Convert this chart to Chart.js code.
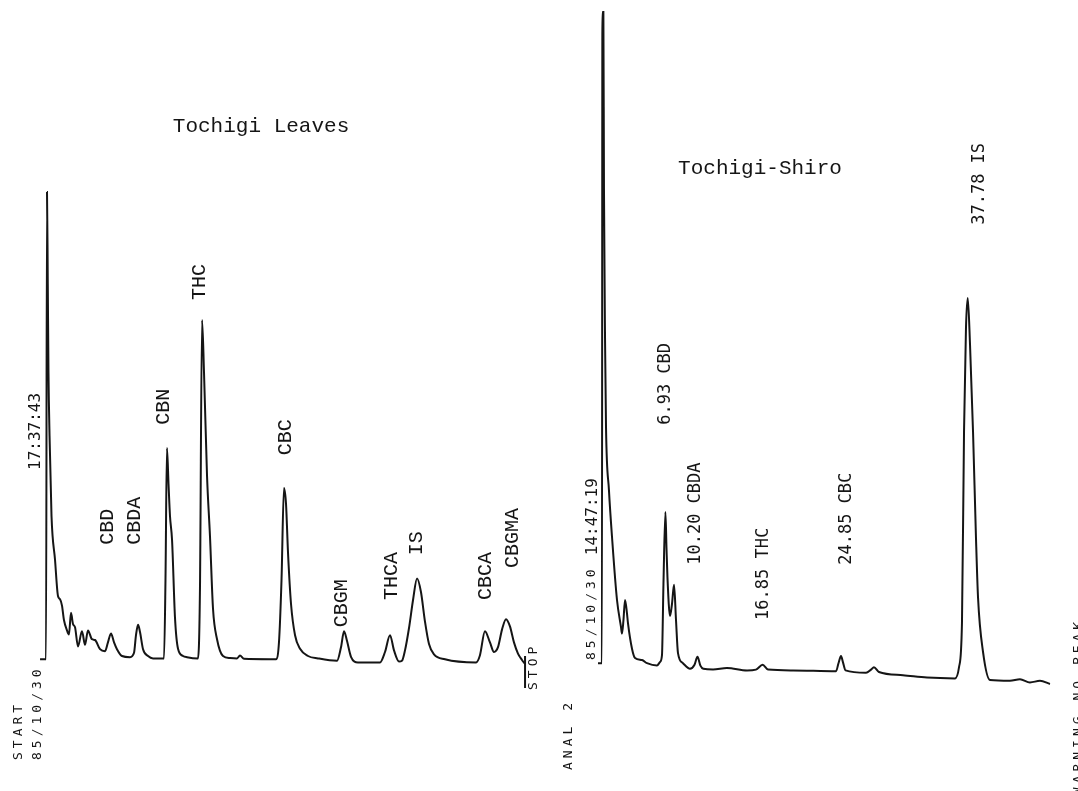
<!DOCTYPE html>
<html>
<head>
<meta charset="utf-8">
<script src="https://cdn.jsdelivr.net/npm/chart.js@4/dist/chart.umd.min.js"></script>
<style>
  html, body { margin: 0; padding: 0; background: #fff; }
  #chart { display: block; }
</style>
</head>
<body>
<canvas id="chart" width="1078" height="791"></canvas>
<script>
// Tochigi Leaves run: retention time (min) and detector response
const leavesTime = [-0.71, -0.10, 0.00, 0.08, 0.15, 0.26, 0.46, 0.82, 1.12, 1.33,
  1.53, 1.73, 2.04, 2.24, 2.45, 2.65, 2.86, 3.16, 3.57, 3.88,
  4.18, 4.59, 4.90, 5.41, 5.92, 6.22, 6.53, 6.84, 7.14, 7.65,
  8.47, 8.88, 9.08, 9.29, 9.49, 9.80, 10.31, 10.82, 11.94, 12.09,
  12.24, 12.40, 12.55, 12.76, 13.06, 13.37, 13.88, 14.29, 15.41, 15.61,
  15.82, 16.02, 16.33, 16.63, 16.94, 17.35, 17.96, 18.67, 19.39, 19.69,
  20.10, 22.76, 23.37, 23.67, 23.93, 24.18, 24.39, 24.59, 24.90, 25.31,
  25.82, 26.63, 27.65, 29.59, 30.00, 30.31, 30.61, 31.02, 31.73, 33.98,
  34.49, 35.00, 35.41, 35.92, 36.22, 36.53, 36.94, 37.35, 37.76, 38.16,
  38.57, 38.98, 39.49, 40.61, 43.78, 44.18, 44.69, 45.20, 45.61, 46.02,
  46.43, 46.84, 47.24, 47.65, 48.06, 48.47, 48.78]
const leavesSignal = [0.1, 0.1, 58.5, 47, 36, 28, 18, 12.5, 8.0, 7.6,
  6.8, 5.0, 3.7, 3.2, 5.9, 4.5, 4.1, 1.7, 3.6, 1.9,
  3.7, 2.6, 2.5, 1.35, 1.1, 2.2, 3.3, 2.2, 1.35, 0.5,
  0.35, 0.9, 3.1, 4.4, 3.5, 1.35, 0.5, 0.2, 0.2, 10,
  26.5, 22, 18, 15, 5.3, 1.4, 0.5, 0.35, 0.2, 9,
  42.5, 36, 23, 15.5, 6.4, 2.6, 0.5, 0.25, 0.2, 0.55,
  0.15, 0.1, 0.1, 2.2, 10, 21.5, 19.5, 13.5, 7, 3.1,
  1.4, 0.5, 0.2, -0.1, 1.6, 3.6, 2.4, 0.4, -0.3, -0.3,
  1.0, 3.1, 1.2, -0.2, -0.1, 1.2, 4.0, 7.5, 10.2, 8.5,
  4.8, 2.0, 0.7, 0.1, -0.3, 0.6, 3.6, 2.2, 1.0, 1.6,
  3.8, 5.1, 4.2, 2.2, 0.8, 0.0, -0.5]
const leavesStopTime = 48.78
const leavesStopMark = [0.5, -3.5]

// Tochigi-Shiro run
const shiroTime = [0.05, 0.45, 0.50, 0.60, 0.66, 0.77, 0.87, 1.17, 1.48, 1.99,
  2.40, 2.50, 2.65, 2.81, 3.01, 3.11, 3.52, 3.83, 4.54, 5.05,
  6.07, 6.38, 6.58, 6.73, 6.93, 7.04, 7.14, 7.40, 7.60, 7.81,
  8.01, 8.21, 8.72, 9.44, 9.90, 10.20, 10.50, 10.80, 11.79, 13.21,
  15.26, 16.17, 16.85, 17.40, 19.95, 24.34, 24.59, 24.85, 25.05, 25.31,
  27.40, 27.91, 28.21, 28.72, 31.17, 33.62, 36.48, 36.89, 37.19, 37.40,
  37.60, 37.78, 38.01, 38.32, 38.62, 38.83, 39.34, 40.05, 42.09, 43.11,
  44.13, 45.15, 46.17]
const shiroSignal = [-0.4, -0.4, 81, 81, 59, 40, 29, 21.2, 15.4, 7.5,
  4.1, 3.3, 5.0, 7.5, 5.8, 4.6, 1.4, 0.25, 0.0, -0.4,
  -0.7, -0.25, 0.6, 9.5, 18.5, 14, 10.3, 5.5, 7.0, 9.4,
  5.0, 0.9, -0.4, -1.1, -0.6, 0.4, -0.7, -1.1, -1.2, -1.0,
  -1.3, -1.2, -0.6, -1.2, -1.3, -1.4, -0.4, 0.5, -0.3, -1.3,
  -1.6, -1.2, -0.9, -1.5, -1.9, -2.2, -2.3, -0.9, 4.6, 28.5,
  41.5, 45.25, 39.5, 28.5, 15.3, 7.8, 1.0, -2.5, -2.6, -2.4,
  -2.8, -2.6, -3.0]

// peak names and where their labels sit (time, response level at text start)
const leavesPeakNames = ["CBD", "CBDA", "CBN", "THC", "CBC", "CBGM", "THCA", "IS", "CBCA", "CBGMA"]
const leavesLabelTimes = [6.22, 8.98, 11.94, 15.61, 24.39, 30.1, 35.2, 37.76, 44.8, 47.55]
const leavesLabelLevels = [14.4, 14.4, 29.4, 45, 25.6, 4.1, 7.5, 13.1, 7.5, 11.5]

const shiroPeakNames = ["6.93 CBD", "10.20 CBDA", "16.85 THC", "24.85 CBC", "37.78 IS"]
const shiroLabelTimes = [6.9, 10.05, 16.99, 25.46, 39.0]
const shiroLabelLevels = [29.4, 11.9, 5, 11.9, 54.4]

// printer messages
const leavesStamps = ["17:37:43", "85/10/30", "START", "STOP"]
const leavesStampTimes = [-1.12, -0.92, -2.86, 49.7]
const leavesStampLevels = [23.75, -12.5, -12.5, -3.75]
const shiroStamps = ["14:47:19", "85/10/30", "ANAL 2", "WARNING NO PEAK"]
const shiroStampTimes = [-0.46, -0.56, -2.91, 49.13]
const shiroStampLevels = [13.1, 0, -13.75, -16.9]

const titles = ["Tochigi Leaves", "Tochigi-Shiro"]
const titleTimes = [21.84, 16.58]
const titleLevels = [66.75, 61.4]

// chart paper speed, px per minute, and where t=0 falls on each strip
const pxPerMin = 9.8
const leavesStart = 47
const shiroStart = 597.5
const W = 1078

const toPoints = (xs, ys) => xs.map((x, i) => ({ x: x, y: ys[i] }))

const textGroups = [
  { axis: 'xLeaves', texts: leavesPeakNames, times: leavesLabelTimes, levels: leavesLabelLevels, font: '20px "Liberation Mono"', rotate: true },
  { axis: 'xShiro', texts: shiroPeakNames, times: shiroLabelTimes, levels: shiroLabelLevels, font: '17px "DejaVu Sans Mono"', rotate: true },
  { axis: 'xLeaves', texts: leavesStamps.slice(0, 1), times: leavesStampTimes.slice(0, 1), levels: leavesStampLevels.slice(0, 1), font: '16px "DejaVu Sans Mono"', rotate: true },
  { axis: 'xShiro', texts: shiroStamps.slice(0, 1), times: shiroStampTimes.slice(0, 1), levels: shiroStampLevels.slice(0, 1), font: '16px "DejaVu Sans Mono"', rotate: true },
  { axis: 'xLeaves', texts: leavesStamps.slice(1), times: leavesStampTimes.slice(1), levels: leavesStampLevels.slice(1), font: '13px "DejaVu Sans Mono"', spacing: '4px', rotate: true },
  { axis: 'xShiro', texts: shiroStamps.slice(1), times: shiroStampTimes.slice(1), levels: shiroStampLevels.slice(1), font: '13px "DejaVu Sans Mono"', spacing: '4px', rotate: true },
  { axis: 'xLeaves', texts: titles.slice(0, 1), times: titleTimes.slice(0, 1), levels: titleLevels.slice(0, 1), font: '21px "Liberation Mono"', rotate: false },
  { axis: 'xShiro', texts: titles.slice(1), times: titleTimes.slice(1), levels: titleLevels.slice(1), font: '21px "Liberation Mono"', rotate: false }
]

const labelPlugin = {
  id: 'peakLabels',
  afterDatasetsDraw(chart) {
    const ctx = chart.ctx
    const yScale = chart.scales.y
    textGroups.forEach(g => {
      const xScale = chart.scales[g.axis]
      ctx.save()
      ctx.font = g.font
      ctx.fillStyle = '#151515'
      ctx.letterSpacing = g.spacing || '0px'
      g.texts.forEach((txt, i) => {
        const px = xScale.getPixelForValue(g.times[i])
        const py = yScale.getPixelForValue(g.levels[i])
        ctx.save()
        ctx.translate(px, py)
        if (g.rotate) ctx.rotate(-Math.PI / 2)
        ctx.textAlign = g.rotate ? 'left' : 'center'
        ctx.textBaseline = 'middle'
        ctx.fillText(txt, 0, 0)
        ctx.restore()
      })
      ctx.restore()
    })
  }
}

const traceStyle = {
  borderColor: '#151515',
  borderWidth: 2,
  pointRadius: 0,
  fill: false,
  cubicInterpolationMode: 'monotone'
}

new Chart(document.getElementById('chart'), {
  type: 'line',
  data: {
    datasets: [
      { ...traceStyle, label: 'Tochigi Leaves', xAxisID: 'xLeaves', data: toPoints(leavesTime, leavesSignal) },
      { ...traceStyle, label: 'Tochigi-Shiro', xAxisID: 'xShiro', data: toPoints(shiroTime, shiroSignal) },
      { ...traceStyle, label: 'stop', xAxisID: 'xLeaves', cubicInterpolationMode: 'default', tension: 0,
        data: leavesStopMark.map(v => ({ x: leavesStopTime, y: v })) }
    ]
  },
  options: {
    responsive: false,
    animation: false,
    devicePixelRatio: 1,
    layout: { padding: 0 },
    plugins: { legend: { display: false }, tooltip: { enabled: false } },
    scales: {
      xLeaves: { type: 'linear', display: false, min: -leavesStart / pxPerMin, max: (W - leavesStart) / pxPerMin },
      xShiro: { type: 'linear', display: false, min: -shiroStart / pxPerMin, max: (W - shiroStart) / pxPerMin },
      y: { type: 'linear', display: false, min: -16.375, max: 82.5 }
    }
  },
  plugins: [labelPlugin]
})
</script>
</body>
</html>
